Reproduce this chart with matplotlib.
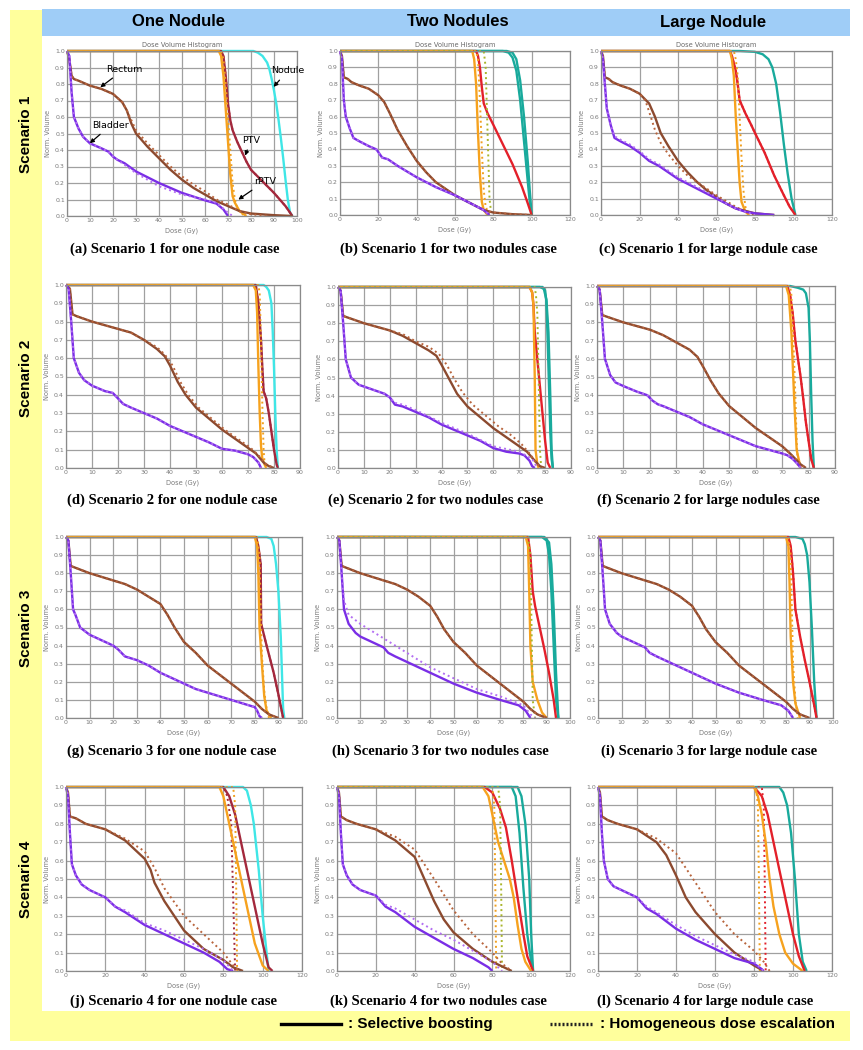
import matplotlib
matplotlib.use("Agg")
import matplotlib.pyplot as plt
from matplotlib.patches import Rectangle
from matplotlib.lines import Line2D
from matplotlib import font_manager

# ---------------- data (dose Gy, normalized volume) ----------------
# Panel (a) Scenario 1, one nodule
a_bladder = [(0,1.0),(1,0.97),(2,0.75),(3,0.6),(5,0.53),(7,0.48),(10,0.44),(15,0.41),(18,0.39),(20,0.36),(22,0.34),(25,0.32),(30,0.27),(40,0.2),(50,0.14),(60,0.095),(65,0.075),(68,0.04),(70,0.0)]
a_bladder_dot = [(0,1.0),(1,0.97),(2,0.75),(3,0.6),(5,0.53),(7,0.48),(10,0.44),(15,0.41),(18,0.39),(20,0.36),(22,0.34),(25,0.31),(30,0.26),(40,0.18),(50,0.13),(60,0.1),(65,0.08),(70,0.02),(72,0.0)]
a_rectum = [(0,1.0),(1,0.95),(2,0.85),(3,0.83),(5,0.82),(10,0.79),(15,0.77),(20,0.74),(24,0.69),(26,0.64),(28,0.56),(30,0.5),(35,0.42),(40,0.35),(45,0.28),(50,0.22),(55,0.17),(60,0.13),(65,0.09),(70,0.06),(75,0.03),(80,0.015),(90,0.005),(98,0.0)]
a_rectum_dot = [(0,1.0),(1,0.95),(2,0.85),(3,0.83),(5,0.82),(10,0.79),(15,0.77),(20,0.74),(24,0.69),(26,0.64),(28,0.58),(30,0.52),(35,0.44),(40,0.37),(45,0.3),(50,0.24),(55,0.19),(60,0.15),(65,0.1),(70,0.07),(75,0.03),(80,0.01),(88,0.0)]
a_rptv = [(0,1.0),(66,1.0),(67,0.97),(68,0.85),(69,0.65),(70,0.45),(71,0.25),(72,0.12),(73,0.08),(75,0.03),(78,0.0)]
a_rptv_dot = [(0,1.0),(67,1.0),(68,0.95),(69,0.8),(70,0.6),(71,0.4),(72,0.2),(73,0.1),(74,0.05),(77,0.0)]
a_ptv = [(0,1.0),(67,1.0),(68,0.97),(69,0.85),(70,0.68),(71,0.58),(72,0.52),(74,0.45),(76,0.39),(78,0.33),(80,0.28),(85,0.21),(90,0.14),(95,0.06),(98,0.0)]
a_nodule = [(0,1.0),(81,1.0),(83,0.99),(85,0.97),(87,0.93),(88,0.89),(89,0.83),(90,0.76),(91,0.68),(92,0.58),(93,0.47),(94,0.35),(95,0.22),(96,0.1),(97,0.02),(98,0.0)]

# Panel (b) Scenario 1, two nodules
b_bladder = [(0,1.0),(1,0.95),(2,0.7),(3,0.6),(5,0.53),(7,0.47),(10,0.45),(15,0.42),(19,0.4),(22,0.35),(25,0.34),(30,0.3),(40,0.23),(50,0.17),(60,0.12),(70,0.06),(75,0.03),(78,0.0)]
b_rectum = [(0,1.0),(1,0.97),(2,0.84),(4,0.83),(6,0.81),(10,0.79),(15,0.77),(20,0.73),(23,0.69),(26,0.62),(30,0.52),(35,0.42),(40,0.33),(45,0.26),(50,0.2),(55,0.16),(60,0.12),(70,0.06),(75,0.03),(80,0.015),(90,0.005),(100,0.0)]
b_rptv = [(0,1.0),(69,1.0),(70,0.95),(71,0.8),(72,0.5),(73,0.25),(74,0.08),(75,0.03),(77,0.0)]
b_rptv_dot = [(0,1.0),(71,1.0),(72,0.95),(73,0.7),(74,0.4),(75,0.15),(76,0.05),(78,0.0)]
b_green_dot = [(0,1.0),(75,1.0),(76,0.9),(77,0.5),(78,0.1),(79,0.0)]
b_ptv = [(0,1.0),(71,1.0),(72,0.97),(73,0.9),(74,0.78),(75,0.68),(77,0.62),(80,0.55),(85,0.43),(90,0.31),(95,0.17),(98,0.07),(100,0.0)]
b_nodule1 = [(0,1.0),(85,1.0),(88,0.99),(90,0.96),(92,0.88),(94,0.7),(96,0.45),(98,0.2),(99,0.08),(100,0.0)]
b_nodule2 = [(0,1.0),(87,1.0),(90,0.99),(92,0.95),(94,0.82),(96,0.6),(98,0.32),(99,0.15),(100,0.0)]

# Panel (c) Scenario 1, large nodule
c_bladder = [(0,1.0),(1,0.95),(2,0.8),(3,0.65),(5,0.55),(7,0.47),(10,0.45),(15,0.42),(20,0.38),(25,0.33),(30,0.3),(40,0.22),(50,0.16),(60,0.1),(65,0.07),(70,0.04),(75,0.02),(80,0.01),(90,0.0)]
c_bladder_dot = [(0,1.0),(1,0.95),(2,0.8),(3,0.65),(5,0.55),(7,0.48),(10,0.46),(15,0.43),(20,0.39),(25,0.34),(30,0.31),(40,0.23),(50,0.17),(60,0.11),(65,0.07),(70,0.04),(75,0.02),(80,0.0)]
c_rectum = [(0,1.0),(1,0.97),(2,0.84),(4,0.83),(6,0.81),(10,0.79),(15,0.77),(20,0.74),(25,0.68),(28,0.6),(31,0.5),(35,0.42),(40,0.33),(45,0.26),(50,0.2),(55,0.15),(60,0.11),(65,0.07),(70,0.04),(80,0.01),(90,0.0)]
c_rectum_dot = [(0,1.0),(1,0.97),(2,0.84),(4,0.83),(6,0.81),(10,0.79),(15,0.77),(20,0.74),(23,0.7),(25,0.63),(28,0.52),(31,0.44),(35,0.37),(40,0.3),(45,0.24),(50,0.2),(60,0.12),(70,0.05),(75,0.02),(80,0.0)]
c_rptv = [(0,1.0),(67,1.0),(68,0.95),(69,0.85),(70,0.6),(71,0.4),(72,0.2),(73,0.08),(75,0.02),(77,0.0)]
c_rptv_dot = [(0,1.0),(69,1.0),(70,0.95),(71,0.85),(72,0.6),(73,0.35),(74,0.15),(75,0.05),(77,0.0)]
c_ptv = [(0,1.0),(67,1.0),(68,0.97),(70,0.88),(71,0.8),(72,0.7),(75,0.62),(78,0.55),(80,0.5),(85,0.38),(90,0.24),(95,0.12),(98,0.05),(101,0.0)]
c_nodule = [(0,1.0),(72,1.0),(80,0.995),(84,0.98),(87,0.95),(89,0.9),(91,0.8),(93,0.63),(95,0.43),(97,0.25),(99,0.1),(101,0.0)]

# Panel (d) Scenario 2, one nodule
d_bladder = [(0,1.0),(1,0.98),(2,0.8),(3,0.6),(5,0.52),(7,0.48),(10,0.45),(15,0.42),(18,0.41),(20,0.38),(22,0.35),(25,0.33),(30,0.3),(35,0.27),(40,0.23),(45,0.2),(50,0.17),(55,0.14),(60,0.105),(65,0.095),(70,0.075),(72,0.06),(74,0.03),(75,0.0)]
d_rectum = [(0,1.0),(1.5,0.98),(2.5,0.84),(4,0.83),(6,0.82),(10,0.8),(15,0.78),(20,0.76),(25,0.74),(30,0.7),(35,0.65),(38,0.61),(40,0.56),(43,0.47),(46,0.4),(50,0.33),(55,0.27),(60,0.21),(65,0.16),(70,0.11),(73,0.08),(76,0.03),(78,0.01),(80,0.0)]
d_rectum_dot = [(0,1.0),(1.5,0.98),(2.5,0.84),(4,0.83),(6,0.82),(10,0.8),(15,0.78),(20,0.76),(25,0.74),(30,0.7),(35,0.66),(38,0.62),(41,0.56),(44,0.47),(47,0.4),(51,0.33),(56,0.27),(61,0.21),(66,0.16),(71,0.11),(74,0.07),(77,0.02),(80,0.0)]
d_rptv = [(0,1.0),(72,1.0),(73,0.97),(73.5,0.85),(74,0.55),(74.5,0.3),(75,0.12),(75.5,0.05),(77,0.0)]
d_rptv_dot = [(0,1.0),(74,1.0),(74.5,0.95),(75,0.7),(75.5,0.35),(76,0.1),(76.5,0.0)]
d_ptv = [(0,1.0),(73,1.0),(74,0.9),(75,0.7),(75.5,0.55),(76,0.42),(77,0.38),(78,0.3),(79,0.2),(80,0.1),(81,0.02),(81.5,0.0)]
d_nodule = [(0,1.0),(76,1.0),(77,0.99),(78,0.97),(79,0.9),(79.5,0.75),(80,0.55),(80.5,0.3),(81,0.1),(81.5,0.0)]

# Panel (e) Scenario 2, two nodules
e_bladder = [(0,1.0),(1,0.98),(2,0.8),(3,0.6),(5,0.5),(8,0.46),(12,0.44),(18,0.41),(20,0.39),(22,0.35),(25,0.34),(30,0.31),(35,0.28),(40,0.24),(45,0.21),(50,0.18),(55,0.15),(60,0.11),(65,0.09),(70,0.08),(72,0.07),(74,0.04),(75,0.01),(76,0.0)]
e_bladder_dot = [(0,1.0),(1,0.98),(2,0.8),(3,0.6),(5,0.5),(8,0.46),(12,0.44),(18,0.41),(20,0.39),(22,0.36),(25,0.35),(30,0.32),(40,0.25),(50,0.19),(60,0.12),(70,0.09),(75,0.05),(77,0.0)]
e_rectum = [(0,1.0),(1,0.98),(2,0.84),(4,0.83),(6,0.82),(10,0.8),(15,0.78),(20,0.76),(25,0.73),(30,0.69),(35,0.65),(38,0.62),(40,0.57),(43,0.49),(46,0.41),(50,0.34),(55,0.28),(60,0.22),(65,0.17),(70,0.12),(73,0.09),(76,0.04),(78,0.01),(80,0.0)]
e_rectum_dot = [(0,1.0),(1,0.98),(2,0.84),(4,0.83),(6,0.82),(10,0.8),(15,0.78),(20,0.76),(25,0.74),(30,0.7),(35,0.67),(39,0.63),(42,0.57),(45,0.49),(48,0.42),(52,0.35),(57,0.29),(62,0.23),(67,0.18),(71,0.13),(74,0.08),(77,0.02),(79,0.0)]
e_rptv = [(0,1.0),(74,1.0),(75,0.97),(75.5,0.9),(76,0.5),(76.3,0.1),(77,0.02),(77.5,0.0)]
e_green_dot = [(0,1.0),(76,1.0),(76.5,0.95),(77,0.85),(77.5,0.5),(78,0.1),(78.5,0.0)]
e_ptv = [(0,1.0),(74,1.0),(75,0.97),(75.5,0.9),(76,0.75),(77,0.6),(78,0.45),(79,0.3),(80,0.15),(81,0.03),(82,0.0)]
e_nodule1 = [(0,1.0),(79,1.0),(80,0.98),(80.5,0.92),(81,0.7),(81.5,0.45),(82,0.2),(82.5,0.05),(83,0.0)]
e_nodule2 = [(0,1.0),(78,1.0),(79.5,0.99),(80.5,0.93),(81.3,0.75),(82,0.4),(82.5,0.1),(83,0.0)]

# Panel (f) Scenario 2, large nodule
f_bladder = [(0,1.0),(1,0.98),(2,0.8),(3,0.6),(5,0.51),(7,0.47),(10,0.45),(15,0.42),(19,0.4),(21,0.37),(23,0.35),(25,0.34),(30,0.31),(35,0.28),(40,0.24),(45,0.21),(50,0.18),(55,0.15),(60,0.12),(65,0.1),(70,0.08),(72,0.07),(74,0.05),(76,0.02),(77,0.0)]
f_rectum = [(0,1.0),(1,0.98),(2,0.84),(4,0.83),(6,0.82),(10,0.8),(15,0.78),(20,0.76),(25,0.73),(30,0.69),(35,0.65),(38,0.61),(40,0.56),(43,0.48),(46,0.41),(50,0.34),(55,0.28),(60,0.22),(65,0.17),(70,0.12),(73,0.08),(75,0.05),(77,0.02),(79,0.0)]
f_rptv = [(0,1.0),(71.5,1.0),(72.5,0.95),(73.5,0.75),(74.5,0.4),(75.5,0.1),(77,0.0)]
f_rptv_dot = [(0,1.0),(73,1.0),(73.5,0.95),(74,0.8),(75,0.4),(75.5,0.15),(76,0.0)]
f_ptv = [(0,1.0),(72,1.0),(73,0.95),(74,0.85),(75,0.7),(76,0.6),(77,0.5),(78,0.38),(79,0.25),(80,0.15),(81,0.05),(82,0.0)]
f_nodule = [(0,1.0),(73,1.0),(76,0.99),(78,0.98),(79,0.96),(80,0.88),(80.5,0.7),(81,0.4),(81.5,0.15),(82,0.0)]

# Panel (g) Scenario 3, one nodule
g_bladder = [(0,1.0),(1,0.98),(2,0.8),(3,0.6),(4,0.57),(6,0.5),(10,0.46),(15,0.43),(20,0.4),(22,0.38),(25,0.34),(30,0.32),(35,0.29),(40,0.25),(45,0.22),(50,0.19),(55,0.16),(60,0.14),(65,0.12),(70,0.1),(75,0.08),(80,0.06),(81,0.04),(82,0.01),(83,0.0)]
g_rectum = [(0,1.0),(1,0.98),(2,0.84),(4,0.83),(6,0.82),(10,0.8),(15,0.78),(20,0.76),(25,0.74),(30,0.71),(35,0.67),(40,0.63),(43,0.57),(46,0.5),(50,0.42),(55,0.36),(60,0.29),(65,0.24),(70,0.19),(75,0.14),(80,0.09),(83,0.05),(86,0.02),(90,0.0)]
g_rptv = [(0,1.0),(80,1.0),(81,0.95),(81.5,0.8),(82,0.5),(83,0.3),(84,0.12),(85,0.04),(87,0.0)]
g_rptv_dot = [(0,1.0),(81,1.0),(82,0.9),(82.5,0.6),(83,0.35),(84,0.15),(85,0.05),(86,0.0)]
g_ptv = [(0,1.0),(80.5,1.0),(81.5,0.95),(82.5,0.85),(82.7,0.52),(85,0.4),(88,0.25),(90,0.13),(92,0.0)]
g_nodule = [(0,1.0),(85,1.0),(87,0.99),(88,0.95),(89,0.85),(90,0.7),(91,0.45),(91.5,0.25),(92,0.05),(92.5,0.0)]

# Panel (h) Scenario 3, two nodules
h_bladder = [(0,1.0),(1,0.98),(2,0.8),(3,0.6),(5,0.52),(8,0.47),(10,0.45),(15,0.42),(20,0.39),(22,0.36),(25,0.34),(30,0.31),(40,0.25),(50,0.19),(60,0.14),(70,0.1),(78,0.07),(81,0.04),(83,0.0)]
h_bladder_dot = [(0,1.0),(1,0.98),(2,0.8),(3,0.65),(5,0.57),(10,0.52),(20,0.44),(30,0.36),(40,0.28),(50,0.22),(60,0.16),(70,0.12),(80,0.07),(83,0.02),(85,0.0)]
h_rectum = [(0,1.0),(1,0.98),(2,0.84),(4,0.83),(6,0.82),(10,0.8),(15,0.78),(20,0.76),(25,0.74),(30,0.71),(35,0.67),(40,0.62),(43,0.56),(46,0.49),(50,0.42),(55,0.36),(60,0.29),(65,0.24),(70,0.19),(75,0.14),(80,0.09),(83,0.05),(86,0.02),(90,0.0)]
h_rptv = [(0,1.0),(81,1.0),(82,0.95),(82.5,0.7),(83,0.4),(84,0.2),(86,0.1),(88,0.03),(90,0.0)]
h_green_dot = [(0,1.0),(82,1.0),(83,0.9),(83.5,0.5),(84,0.1),(85,0.0)]
h_ptv = [(0,1.0),(82,1.0),(83,0.9),(84,0.7),(85,0.62),(87,0.5),(89,0.38),(91,0.25),(93,0.1),(94,0.0)]
h_nodule1 = [(0,1.0),(88,1.0),(90,0.98),(91,0.9),(92,0.7),(93,0.4),(94,0.1),(95,0.0)]
h_nodule2 = [(0,1.0),(89,1.0),(91,0.97),(92,0.85),(93,0.6),(94,0.25),(95,0.0)]

# Panel (i) Scenario 3, large nodule
i_bladder = [(0,1.0),(1,0.98),(2,0.8),(3,0.6),(5,0.52),(8,0.47),(10,0.45),(15,0.42),(20,0.39),(22,0.36),(25,0.34),(30,0.31),(40,0.25),(50,0.19),(60,0.14),(70,0.1),(78,0.07),(81,0.04),(83,0.0)]
i_rectum = [(0,1.0),(1,0.98),(2,0.84),(4,0.83),(6,0.82),(10,0.8),(15,0.78),(20,0.76),(25,0.74),(30,0.71),(35,0.67),(40,0.62),(43,0.56),(46,0.49),(50,0.42),(55,0.36),(60,0.29),(65,0.24),(70,0.19),(75,0.14),(80,0.09),(83,0.05),(86,0.02),(90,0.0)]
i_rptv = [(0,1.0),(80,1.0),(81,0.95),(81.5,0.75),(82,0.45),(83,0.2),(84,0.08),(86,0.0)]
i_rptv_dot = [(0,1.0),(81,1.0),(82,0.9),(82.5,0.6),(83,0.3),(84,0.1),(85,0.0)]
i_ptv = [(0,1.0),(81,1.0),(82,0.95),(83,0.8),(84,0.6),(86,0.45),(88,0.32),(90,0.2),(92,0.07),(93,0.0)]
i_nodule = [(0,1.0),(84,1.0),(87,0.99),(88,0.96),(89,0.9),(90,0.75),(91,0.5),(92,0.2),(93,0.0)]

# Panel (j) Scenario 4, one nodule
j_bladder = [(0,1.0),(1,0.95),(2,0.75),(3,0.58),(5,0.52),(8,0.47),(12,0.44),(20,0.4),(25,0.35),(30,0.32),(40,0.25),(50,0.2),(60,0.15),(70,0.1),(78,0.05),(82,0.01),(85,0.0)]
j_bladder_dot = [(0,1.0),(1,0.95),(2,0.75),(3,0.58),(5,0.52),(8,0.47),(12,0.44),(20,0.4),(25,0.35),(30,0.33),(40,0.26),(50,0.22),(60,0.17),(70,0.12),(80,0.06),(85,0.0)]
j_rectum = [(0,1.0),(1,0.97),(2,0.84),(5,0.83),(10,0.8),(20,0.77),(30,0.71),(40,0.61),(43,0.55),(45,0.48),(50,0.38),(55,0.3),(60,0.22),(70,0.12),(80,0.06),(85,0.02),(90,0.0)]
j_rectum_dot = [(0,1.0),(1,0.97),(2,0.84),(5,0.83),(10,0.8),(20,0.77),(30,0.72),(40,0.65),(45,0.56),(50,0.45),(60,0.3),(70,0.2),(80,0.1),(85,0.03),(88,0.0)]
j_rptv = [(0,1.0),(78,1.0),(80,0.95),(83,0.8),(86,0.65),(88,0.55),(90,0.45),(93,0.3),(96,0.15),(100,0.03),(103,0.0)]
j_rptv_dot = [(0,1.0),(85,1.0),(86,0.9),(86.5,0.5),(87,0.0)]
j_ptv = [(0,1.0),(80,1.0),(83,0.95),(86,0.85),(88,0.75),(92,0.55),(96,0.35),(100,0.15),(103,0.02),(105,0.0)]
j_ptv_dot = [(0,1.0),(80,1.0),(82,0.95),(84,0.8),(85,0.4),(86,0.0)]
j_nodule = [(0,1.0),(90,1.0),(92,0.98),(94,0.9),(95.5,0.8),(97,0.65),(98,0.55),(100,0.3),(102,0.1),(103,0.0)]

# Panel (k) Scenario 4, two nodules
k_bladder = [(0,1.0),(1,0.95),(2,0.75),(3,0.58),(5,0.52),(8,0.47),(12,0.44),(20,0.41),(25,0.35),(30,0.32),(40,0.24),(50,0.18),(60,0.12),(70,0.07),(78,0.02),(80,0.0)]
k_bladder_dot = [(0,1.0),(1,0.95),(2,0.75),(3,0.58),(5,0.52),(8,0.47),(12,0.44),(20,0.41),(25,0.36),(30,0.34),(40,0.28),(50,0.22),(60,0.17),(70,0.11),(80,0.05),(85,0.0)]
k_rectum = [(0,1.0),(1,0.97),(2,0.84),(5,0.82),(10,0.8),(20,0.77),(30,0.71),(40,0.62),(45,0.5),(50,0.38),(55,0.28),(60,0.21),(70,0.12),(80,0.05),(90,0.0)]
k_rectum_dot = [(0,1.0),(1,0.97),(2,0.84),(5,0.82),(10,0.8),(20,0.77),(30,0.73),(40,0.66),(50,0.5),(60,0.33),(70,0.2),(80,0.1),(85,0.04),(90,0.0)]
k_rptv = [(0,1.0),(75,1.0),(78,0.95),(80,0.85),(83,0.7),(86,0.6),(89,0.5),(91,0.4),(93,0.25),(95,0.12),(97,0.05),(100,0.0)]
k_rptv_dot = [(0,1.0),(80,1.0),(81,0.9),(81.5,0.5),(82,0.0)]
k_green_dot = [(0,1.0),(83,1.0),(84,0.9),(84.5,0.5),(85,0.0)]
k_ptv = [(0,1.0),(76,1.0),(80,0.97),(84,0.88),(87,0.78),(90,0.6),(93,0.4),(96,0.2),(98,0.08),(101,0.0)]
k_nodule1 = [(0,1.0),(83,1.0),(90,1.0),(92,0.95),(94,0.75),(96,0.45),(98,0.2),(100,0.05),(101,0.0)]
k_nodule2 = [(0,1.0),(85,1.0),(93,1.0),(95,0.95),(97,0.8),(99,0.5),(100,0.2),(101,0.0)]

# Panel (l) Scenario 4, large nodule
l_bladder = [(0,1.0),(1,0.95),(2,0.75),(3,0.6),(5,0.5),(8,0.46),(12,0.44),(20,0.4),(25,0.34),(30,0.31),(40,0.23),(50,0.17),(60,0.12),(70,0.07),(80,0.04),(84,0.01),(85,0.0)]
l_bladder_dot = [(0,1.0),(1,0.95),(2,0.75),(3,0.6),(5,0.5),(8,0.46),(12,0.44),(20,0.4),(25,0.35),(30,0.32),(40,0.25),(50,0.19),(60,0.14),(70,0.09),(80,0.05),(85,0.0)]
l_rectum = [(0,1.0),(1,0.97),(2,0.84),(5,0.82),(10,0.8),(20,0.77),(30,0.7),(35,0.63),(40,0.52),(45,0.4),(50,0.32),(60,0.2),(70,0.1),(80,0.03),(85,0.0)]
l_rectum_dot = [(0,1.0),(1,0.97),(2,0.84),(5,0.82),(10,0.8),(20,0.77),(30,0.72),(40,0.64),(50,0.48),(60,0.32),(70,0.2),(80,0.11),(85,0.05),(88,0.0)]
l_rptv = [(0,1.0),(80,1.0),(82,0.95),(84,0.85),(86,0.7),(88,0.5),(90,0.35),(93,0.2),(96,0.1),(100,0.04),(105,0.0)]
l_rptv_dot = [(0,1.0),(81,1.0),(82,0.9),(82.5,0.5),(83,0.0)]
l_ptv = [(0,1.0),(80,1.0),(84,0.95),(87,0.85),(90,0.7),(93,0.55),(96,0.4),(100,0.2),(103,0.08),(106,0.0)]
l_ptv_dot = [(0,1.0),(84,1.0),(85,0.9),(85.5,0.5),(86,0.0)]
l_nodule = [(0,1.0),(82,1.0),(93,1.0),(95,0.97),(97,0.9),(99,0.75),(101,0.5),(103,0.2),(105,0.05),(107,0.0)]

# text
col_titles = ["One Nodule", "Two Nodules", "Large Nodule"]
row_titles = ["Scenario 1", "Scenario 2", "Scenario 3", "Scenario 4"]
captions = ["(a) Scenario 1 for one nodule case", "(b) Scenario 1 for two nodules case", "(c) Scenario 1 for large nodule case",
            "(d) Scenario 2 for one nodule case", "(e) Scenario 2 for two nodules case", "(f) Scenario 2 for large nodules case",
            "(g) Scenario 3 for one nodule case", "(h) Scenario 3 for two nodules case", "(i) Scenario 3 for large nodule case",
            "(j) Scenario 4 for one nodule case", "(k) Scenario 4 for two nodules case", "(l) Scenario 4 for large nodule case"]
x_max = [100, 120, 120, 90, 90, 90, 100, 100, 100, 120, 120, 120]
x_step = [10, 20, 20, 10, 10, 10, 10, 10, 10, 20, 20, 20]
legend_labels = [": Selective boosting", ": Homogeneous dose escalation"]

# ---------------- styling ----------------
BLADDER = "#7a2ee6"; BLADDER_DOT = "#b36ef2"
RECTUM = "#8c4a2f"; RECTUM_DOT = "#b8643c"
RPTV = "#f6a21e"; RPTV_DOT = "#f0a020"; GREEN_DOT = "#a9b52a"
PTV1 = "#a3283c"; PTV2 = "#e3202a"
NOD1 = "#3fe6e6"; NOD2 = "#19aa9c"

def S(p, c, ls="-"):
    return (p, c, ls)

panels = [
    [S(a_nodule, NOD1), S(a_ptv, PTV1), S(a_ptv, PTV1, ":"), S(a_rptv, RPTV), S(a_rptv_dot, RPTV_DOT, ":"),
     S(a_rectum, RECTUM), S(a_rectum_dot, RECTUM_DOT, ":"), S(a_bladder, BLADDER), S(a_bladder_dot, BLADDER_DOT, ":")],
    [S(b_nodule1, NOD2), S(b_nodule2, NOD2), S(b_ptv, PTV2), S(b_rptv, RPTV), S(b_rptv_dot, RPTV_DOT, ":"), S(b_green_dot, GREEN_DOT, ":"),
     S(b_rectum, RECTUM), S(b_rectum, RECTUM_DOT, ":"), S(b_bladder, BLADDER), S(b_bladder, BLADDER_DOT, ":")],
    [S(c_nodule, NOD2), S(c_ptv, PTV2), S(c_ptv, PTV2, ":"), S(c_rptv, RPTV), S(c_rptv_dot, RPTV_DOT, ":"),
     S(c_rectum, RECTUM), S(c_rectum_dot, RECTUM_DOT, ":"), S(c_bladder, BLADDER), S(c_bladder_dot, BLADDER_DOT, ":")],
    [S(d_nodule, NOD1), S(d_ptv, PTV1), S(d_ptv, PTV1, ":"), S(d_rptv, RPTV), S(d_rptv_dot, RPTV_DOT, ":"),
     S(d_rectum, RECTUM), S(d_rectum_dot, RECTUM_DOT, ":"), S(d_bladder, BLADDER), S(d_bladder, BLADDER_DOT, ":")],
    [S(e_nodule1, NOD2), S(e_nodule2, NOD2), S(e_ptv, PTV2), S(e_rptv, RPTV), S(e_green_dot, GREEN_DOT, ":"),
     S(e_rectum, RECTUM), S(e_rectum_dot, RECTUM_DOT, ":"), S(e_bladder, BLADDER), S(e_bladder_dot, BLADDER_DOT, ":")],
    [S(f_nodule, NOD2), S(f_ptv, PTV2), S(f_ptv, PTV2, ":"), S(f_rptv, RPTV), S(f_rptv_dot, RPTV_DOT, ":"),
     S(f_rectum, RECTUM), S(f_rectum, RECTUM_DOT, ":"), S(f_bladder, BLADDER), S(f_bladder, BLADDER_DOT, ":")],
    [S(g_nodule, NOD1), S(g_ptv, PTV1), S(g_ptv, PTV1, ":"), S(g_rptv, RPTV), S(g_rptv_dot, RPTV_DOT, ":"),
     S(g_rectum, RECTUM), S(g_rectum, RECTUM_DOT, ":"), S(g_bladder, BLADDER), S(g_bladder, BLADDER_DOT, ":")],
    [S(h_nodule1, NOD2), S(h_nodule2, NOD2), S(h_ptv, PTV2), S(h_rptv, RPTV), S(h_green_dot, GREEN_DOT, ":"),
     S(h_rectum, RECTUM), S(h_rectum, RECTUM_DOT, ":"), S(h_bladder, BLADDER), S(h_bladder_dot, BLADDER_DOT, ":")],
    [S(i_nodule, NOD2), S(i_ptv, PTV2), S(i_ptv, PTV2, ":"), S(i_rptv, RPTV), S(i_rptv_dot, RPTV_DOT, ":"),
     S(i_rectum, RECTUM), S(i_rectum, RECTUM_DOT, ":"), S(i_bladder, BLADDER), S(i_bladder, BLADDER_DOT, ":")],
    [S(j_nodule, NOD1), S(j_ptv, PTV1), S(j_ptv_dot, PTV1, ":"), S(j_rptv, RPTV), S(j_rptv_dot, RPTV_DOT, ":"),
     S(j_rectum, RECTUM), S(j_rectum_dot, RECTUM_DOT, ":"), S(j_bladder, BLADDER), S(j_bladder_dot, BLADDER_DOT, ":")],
    [S(k_nodule1, NOD2), S(k_nodule2, NOD2), S(k_ptv, PTV2), S(k_rptv, RPTV), S(k_rptv_dot, RPTV_DOT, ":"), S(k_green_dot, GREEN_DOT, ":"),
     S(k_rectum, RECTUM), S(k_rectum_dot, RECTUM_DOT, ":"), S(k_bladder, BLADDER), S(k_bladder_dot, BLADDER_DOT, ":")],
    [S(l_nodule, NOD2), S(l_ptv, PTV2), S(l_ptv_dot, PTV2, ":"), S(l_rptv, RPTV), S(l_rptv_dot, RPTV_DOT, ":"),
     S(l_rectum, RECTUM), S(l_rectum_dot, RECTUM_DOT, ":"), S(l_bladder, BLADDER), S(l_bladder_dot, BLADDER_DOT, ":")],
]

# axes boxes in pixels: (left, right, top, bottom)
boxes = [(67, 297, 51, 216), (340, 570, 51, 215), (601, 832, 51, 215),
         (66, 300, 285, 468), (338, 571, 287, 468), (597, 835, 286, 468),
         (66, 302, 537, 718), (337, 570, 537, 718), (598, 833, 537, 718),
         (66, 302, 787, 971), (337, 570, 787, 971), (598, 832, 787, 971)]
cap_x = [175, 448, 708, 172, 436, 708, 172, 440, 709, 173, 438, 705]
cap_y = [249, 249, 249, 500, 500, 500, 751, 751, 751, 1001, 1001, 1001]

avail = {f.name for f in font_manager.fontManager.ttflist}
NARROW = "Liberation Sans Narrow" if "Liberation Sans Narrow" in avail else "Liberation Sans"
SERIF = "Liberation Serif"

W, H = 863, 1050
fig = plt.figure(figsize=(W / 100, H / 100), dpi=100)
fig.patch.set_facecolor("white")

def fx(x): return x / W
def fy(y): return 1 - y / H

# background decorations
fig.patches.append(Rectangle((fx(10), fy(1041)), fx(32), (1041 - 10) / H, transform=fig.transFigure,
                             facecolor="#ffff9c", edgecolor="none", zorder=-5))
fig.patches.append(Rectangle((fx(10), fy(1041)), fx(840), (1041 - 1011) / H, transform=fig.transFigure,
                             facecolor="#ffff9c", edgecolor="none", zorder=-5))
fig.patches.append(Rectangle((fx(42), fy(36)), fx(808), (36 - 9) / H, transform=fig.transFigure,
                             facecolor="#9fcdf7", edgecolor="none", zorder=-5))

for cx, t in zip([178, 458, 713], col_titles):
    fig.text(fx(cx), fy(22), t, ha="center", va="center", fontsize=12, fontweight="bold", family=NARROW)
for cy, t in zip([134, 378, 628, 879], row_titles):
    fig.text(fx(26), fy(cy), t, ha="center", va="center", rotation=90, fontsize=11, fontweight="bold", family=NARROW)

GRAY = "#8a8a8a"
for idx, (box, curves) in enumerate(zip(boxes, panels)):
    l, r, t, b = box
    ax = fig.add_axes([fx(l), fy(b), (r - l) / W, (b - t) / H])
    ax.set_xlim(0, x_max[idx])
    ax.set_ylim(0, 1.0)
    ax.set_xticks(list(range(0, x_max[idx] + 1, x_step[idx])))
    yt = [k / 10 for k in range(11)]
    ax.set_yticks(yt)
    ax.set_yticklabels([f"{v:.1f}" for v in yt])
    ax.tick_params(length=0, labelsize=4.5, labelcolor="#7a7a7a", pad=1.5)
    ax.grid(True, color="#a0a0a0", lw=0.9)
    ax.set_axisbelow(True)
    for sp in ax.spines.values():
        sp.set_color(GRAY)
        sp.set_linewidth(0.9)
    ax.set_xlabel("Dose (Gy)", fontsize=4.8, color="#7a7a7a", labelpad=3)
    ax.set_ylabel("Norm. Volume", fontsize=4.8, color="#7a7a7a", labelpad=3)
    if idx < 3:
        ax.set_title("Dose Volume Histogram", fontsize=4.8, color="#6a6a6a", pad=3)
    for pts, col, ls in curves:
        xs = [p[0] for p in pts]
        ys = [p[1] for p in pts]
        ax.plot(xs, ys, color=col, ls=ls, lw=1.7 if ls == "-" else 1.4, clip_on=False, solid_capstyle="butt")
    if idx == 0:
        akw = dict(arrowstyle="-|>", color="black", lw=0.9, mutation_scale=6)
        ax.annotate("Rectum", xy=(13.5, 0.77), xytext=(25, 0.89), fontsize=6.8, ha="center", va="center", arrowprops=akw)
        ax.annotate("Bladder", xy=(9, 0.43), xytext=(19, 0.55), fontsize=6.8, ha="center", va="center", arrowprops=akw)
        ax.annotate("Nodule", xy=(89, 0.77), xytext=(96, 0.88), fontsize=6.8, ha="center", va="center", arrowprops=akw)
        ax.annotate("PTV", xy=(77, 0.35), xytext=(80, 0.46), fontsize=6.8, ha="center", va="center", arrowprops=akw)
        ax.annotate("rPTV", xy=(73.5, 0.09), xytext=(86, 0.21), fontsize=6.8, ha="center", va="center", arrowprops=akw)
    fig.text(fx(cap_x[idx]), fy(cap_y[idx]), captions[idx], ha="center", va="center",
             fontsize=10.5, fontweight="bold", family=SERIF)

# legend at bottom
fig.add_artist(Line2D([fx(281), fx(341)], [fy(1024), fy(1024)], color="black", lw=2.4, transform=fig.transFigure))
fig.text(fx(348), fy(1024), legend_labels[0], ha="left", va="center", fontsize=11, fontweight="bold", family=NARROW)
fig.add_artist(Line2D([fx(550), fx(594)], [fy(1024), fy(1024)], color="#222222", lw=2.4, ls=(0, (0.6, 0.6)),
                      transform=fig.transFigure))
fig.text(fx(600), fy(1024), legend_labels[1], ha="left", va="center", fontsize=11, fontweight="bold", family=NARROW)

fig.savefig("out.png", dpi=100, facecolor="white")
